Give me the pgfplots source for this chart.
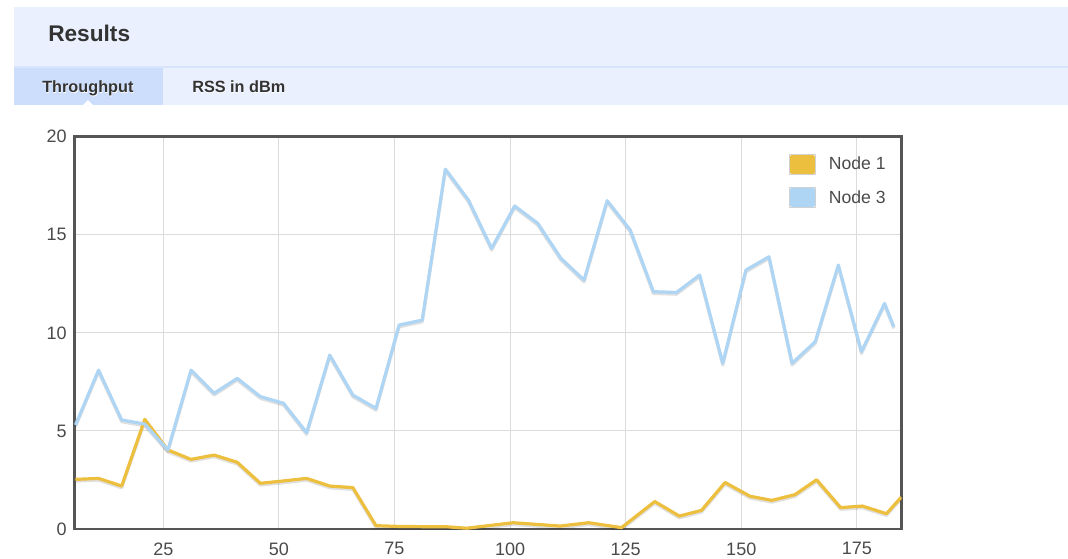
\documentclass[border=0pt]{standalone}
\usepackage{fontspec}
\setmainfont{Liberation Sans}
\usepackage{pgfplots}
\usepackage{pgfplotstable}
\pgfplotsset{compat=1.18}
\definecolor{hdr}{HTML}{EAF0FD}
\definecolor{sepc}{HTML}{D8E4FC}
\definecolor{tabc}{HTML}{CCDEFC}
\definecolor{txt}{HTML}{333333}
\definecolor{ticktxt}{HTML}{4A4A4A}
\definecolor{frame}{HTML}{555555}
\definecolor{gridc}{HTML}{DCDCDC}
\definecolor{yel}{HTML}{EDBF3E}
\definecolor{blu}{HTML}{AFD5F4}

\pgfplotstableread{
x y
6 2.53
11 2.58
16 2.19
21 5.59
26 4.03
31 3.55
36 3.77
41 3.40
46 2.33
51 2.45
56 2.58
61 2.19
66 2.11
71 0.17
76 0.13
81 0.12
86 0.12
90.6 0.04
100.7 0.32
110.8 0.15
117 0.32
124.1 0.07
131.3 1.40
136.6 0.66
141.4 0.95
146.5 2.37
151.9 1.67
156.6 1.46
161.6 1.75
166.3 2.51
171.5 1.09
176.2 1.17
181.4 0.78
184.6 1.62
}\nodeone

\pgfplotstableread{
x y
6 5.30
11 8.10
16 5.56
21 5.35
26 4.03
31 8.10
36 6.92
41 7.68
46 6.75
51 6.41
56 4.91
61 8.87
66 6.83
71 6.15
76 10.40
81 10.65
86 18.35
91 16.77
96 14.31
101 16.47
106 15.58
111 13.80
116 12.69
121 16.74
126 15.24
131 12.10
136 12.06
141 12.95
146 8.45
151 13.20
156 13.88
161 8.45
166 9.55
171 13.46
176 9.04
181 11.50
183 10.31
}\nodethree

\begin{document}
\begin{tikzpicture}
\path[use as bounding box] (0,0) rectangle (801pt,-418.5pt);
\begin{scope}[x=0.75pt,y=-0.75pt]
\fill[hdr] (14,7) rectangle (1068,105);
\fill[sepc] (14,66) rectangle (1068,68);
\fill[tabc] (14,68) rectangle (162.5,105);
\fill[white] (83,105) -- (88,100) -- (93,105) -- cycle;
\node[anchor=base west, inner sep=0pt, font=\fontsize{17}{20}\selectfont\bfseries, text=txt] at (48,41.5) {Results};
\node[anchor=base west, inner sep=0pt, font=\fontsize{12.2}{14}\selectfont\bfseries, text=white] at (42.5,93.5) {Throughput};
\node[anchor=base west, inner sep=0pt, font=\fontsize{12.2}{14}\selectfont\bfseries, text=txt] at (42,92.3) {Throughput};
\node[anchor=base west, inner sep=0pt, font=\fontsize{12.2}{14}\selectfont\bfseries, text=white] at (192.5,93.5) {RSS in dBm};
\node[anchor=base west, inner sep=0pt, font=\fontsize{12.2}{14}\selectfont\bfseries, text=txt] at (192,92.3) {RSS in dBm};
\end{scope}
\begin{axis}[
  at={(55.725pt,-396.75pt)}, anchor=south west,
  scale only axis, width=620.55pt, height=294.2pt,
  xmin=5.75, xmax=184.7, ymin=0, ymax=20,
  xtick={25,50,...,175}, ytick={0,5,...,20},
  major tick length=0pt,
  grid=major,
  major grid style={draw=gridc, line width=0.75pt},
  axis line style={draw=frame, line width=2.2pt},
  /pgf/number format/assume math mode=true,
  tick label style={font=\fontsize{13.5}{16}\selectfont, text=ticktxt},
  yticklabel style={anchor=east, inner sep=0pt, xshift=-5.5pt},
  xticklabel style={anchor=north, inner sep=0pt, yshift=-10pt},
  legend style={at={(rel axis cs:0.864,0.957)}, anchor=north west, draw=none, fill=none,
    inner sep=0pt, outer sep=0pt, row sep=9.5pt,
    font=\fontsize{13.2}{15}\selectfont, text=ticktxt,
    nodes={inner sep=0pt, anchor=west},
    /tikz/every odd column/.style={column sep=9.5pt}},
  legend cell align=left,
]
\addplot[forget plot, draw=black, opacity=0.12, line width=2.4pt, line join=round, transform canvas={yshift=-1.3pt}] table[x=x,y=y] {\nodeone};
\addplot[forget plot, draw=black, opacity=0.12, line width=2.4pt, line join=round, transform canvas={yshift=-1.3pt}] table[x=x,y=y] {\nodethree};
\addplot[draw=yel, line width=2.4pt, line join=round,
  legend image code/.code={\draw[draw=black!18, line width=0.75pt, fill=white] (0pt,-7.5pt) rectangle (19.5pt,7.5pt); \fill[yel] (1.6pt,-5.9pt) rectangle (17.9pt,5.9pt);}
  ] table[x=x,y=y] {\nodeone};
\addlegendentry{Node 1}
\addplot[draw=blu, line width=2.4pt, line join=round,
  legend image code/.code={\draw[draw=black!18, line width=0.75pt, fill=white] (0pt,-7.5pt) rectangle (19.5pt,7.5pt); \fill[blu] (1.6pt,-5.9pt) rectangle (17.9pt,5.9pt);}
  ] table[x=x,y=y] {\nodethree};
\addlegendentry{Node 3}
\end{axis}
\end{tikzpicture}
\end{document}
